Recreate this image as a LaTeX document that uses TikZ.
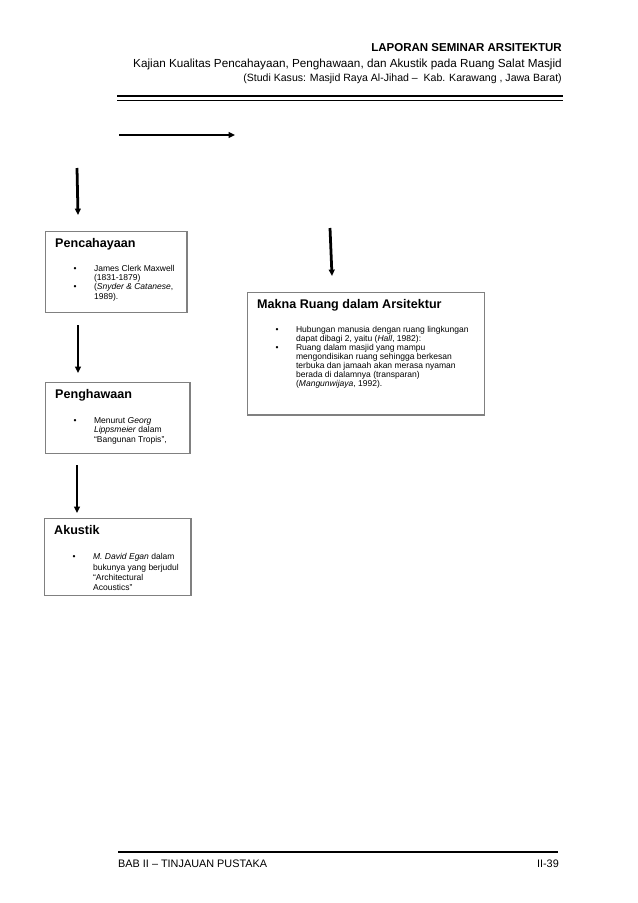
\documentclass[tikz,border=0pt]{standalone}
\usepackage{fontspec}
\setmainfont{Liberation Sans}
\usepackage{xcolor}
\usetikzlibrary{arrows.meta, positioning}

\newcommand{\boxhead}[1]{{\fontsize{11.8}{14}\selectfont\bfseries #1\par}\vspace{14pt}}
\newcommand{\itm}[1]{\par\noindent\hspace*{17.3pt}\makebox[19.2pt][l]{\textbullet}%
  \parbox[t]{\dimexpr\linewidth-30pt\relax}{\raggedright #1}}

\begin{document}
\begin{tikzpicture}[x=0.33mm, y=-0.33mm,
    box/.style={draw=gray, line width=1.2pt, anchor=north west, inner xsep=9pt, inner ysep=6.5pt},
    hd/.style={inner sep=0pt},
    arr/.style={line width=2.6pt, -{Triangle[length=6pt, width=5.4pt]}}]
  \useasboundingbox (0,0) rectangle (638,903);
  \node[hd, anchor=base east, font=\fontsize{10.8}{12}\selectfont\bfseries] (lap) at (562,51)
        {LAPORAN SEMINAR ARSITEKTUR};
  \node[hd, anchor=base east, font=\fontsize{11}{13}\selectfont] (judul) at (562,67)
        {Kajian Kualitas Pencahayaan, Penghawaan, dan Akustik pada Ruang Salat Masjid};
  \node[hd, anchor=base east, font=\fontsize{9.9}{12}\selectfont] (studi) at (562,81)
        {(Studi Kasus: Masjid Raya Al-Jihad --\ \ Kab. Karawang , Jawa Barat)};
  \draw[line width=1.9pt] (117,96) -- (563,96);
  \draw[line width=0.9pt] (117,100.5) -- (563,100.5);

  \node[box] (pen) at (45,231) {\parbox[t][62.7pt][t]{114.8pt}{\boxhead{Pencahayaan}%
      \fontsize{8}{8.6}\selectfont
      \itm{James Clerk Maxwell\newline (1831-1879)}
      \itm{(\textit{Snyder \& Catanese},\newline 1989).}}};
  \node[box] (peng) at (45,382) {\parbox[t][53.4pt][t]{117.6pt}{\boxhead{Penghawaan}%
      \fontsize{8}{8.9}\selectfont
      \itm{Menurut \textit{Georg}\newline \textit{Lippsmeier} dalam\newline ``Bangunan Tropis'',}}};
  \node[box] (aku) at (44,518) {\parbox[t][59pt][t]{119.4pt}{\boxhead{Akustik}%
      \fontsize{8}{9.6}\selectfont
      \itm{\textit{M. David Egan} dalam\newline bukunya yang berjudul\newline ``Architectural\newline Acoustics''}}};
  \node[box] (makna) at (247,292) {\parbox[t][102pt][t]{204.5pt}{\boxhead{Makna Ruang dalam Arsitektur}%
      \fontsize{8}{8.4}\selectfont
      \itm{Hubungan manusia dengan ruang lingkungan\newline dapat dibagi 2, yaitu (\textit{Hall}, 1982):}
      \itm{Ruang dalam masjid yang mampu\newline mengondisikan ruang sehingga berkesan\newline
           terbuka dan jamaah akan merasa nyaman\newline berada di dalamnya (transparan)\newline
           (\textit{Mangunwijaya}, 1992).}}};

  \coordinate (top-s) at (119,135);  \coordinate (top-e) at (235,135);
  \coordinate (pen-s) at (77,168);   \coordinate (pen-e) at (78,215);
  \coordinate (peng-s) at (78,325);  \coordinate (peng-e) at (78,373);
  \coordinate (aku-s) at (77,465);   \coordinate (aku-e) at (77,513);
  \coordinate (mak-s) at (330,228);  \coordinate (mak-e) at (332,276);
  \draw[arr] (top-s) -- (top-e);
  \draw[arr] (pen-s) -- (pen-e);
  \draw[arr] (peng-s) -- (peng-e);
  \draw[arr] (aku-s) -- (aku-e);
  \draw[arr] (mak-s) -- (mak-e);

  \draw[line width=1.3pt] (118,852) -- (558,852);
  \node[hd, anchor=base west, font=\fontsize{10.2}{12}\selectfont] (bab) at (118,867)
        {BAB II -- TINJAUAN PUSTAKA};
  \node[hd, anchor=base east, font=\fontsize{10.2}{12}\selectfont] (hal) at (559,867) {II-39};
\end{tikzpicture}
\end{document}
